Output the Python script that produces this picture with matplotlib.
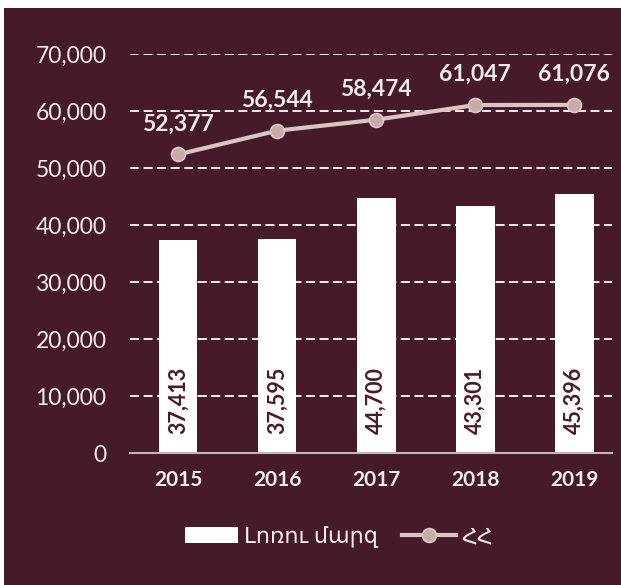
import matplotlib
matplotlib.use("Agg")
import matplotlib.pyplot as plt
from matplotlib.patches import Rectangle
from matplotlib.lines import Line2D

# Data
years = ["2015", "2016", "2017", "2018", "2019"]
lori = [37413, 37595, 44700, 43301, 45396]
armenia = [52377, 56544, 58474, 61047, 61076]
yticks = [0, 10000, 20000, 30000, 40000, 50000, 60000, 70000]
bar_name = "Լոռու մարզ"
line_name = "ՀՀ"

bg = "#461a29"
line_col = "#d9c5c3"
marker_col = "#c9aaa8"
text_col = "#f2ecec"
fonts = ["Lato", "DejaVu Sans"]

fig = plt.figure(figsize=(6.21, 5.85), dpi=100, facecolor="white")
# maroon panel with a thin white strip on the top and left
fig.patches.append(Rectangle((4 / 621, 0), 1, 1 - 8 / 585, transform=fig.transFigure,
                             facecolor=bg, edgecolor="none", zorder=-10))

ax = fig.add_axes([130 / 621, 1 - 453 / 585, 482 / 621, 399 / 585])
ax.set_facecolor("none")

x = list(range(len(years)))
ax.bar(x, lori, width=0.39, color="white", zorder=2)
ax.plot(x, armenia, color=line_col, lw=3, marker="o", ms=10,
        mfc=marker_col, mec="#dccbc9", mew=1.2, zorder=3)

# labels in the bars
for i, v in enumerate(lori):
    ax.annotate(f"{v:,}", (i, 0), xytext=(0, 14), textcoords="offset points",
                rotation=90, ha="center", va="bottom", color="#4a1a2b",
                fontsize=15.5, fontweight="bold", family=fonts, zorder=4)

# labels above the line
for i, v in enumerate(armenia):
    ax.annotate(f"{v:,}", (i, v), xytext=(0, 22), textcoords="offset points",
                ha="center", va="center", color=text_col,
                fontsize=16.5, fontweight="bold", family=fonts, zorder=4)

ax.set_xlim(-0.485, 4.38)
ax.set_ylim(0, 70000)
ax.set_yticks(yticks)
ax.set_yticklabels([f"{t:,}" for t in yticks])
ax.set_xticks(x)
ax.set_xticklabels(years)
for lbl in ax.get_yticklabels():
    lbl.set_family(fonts)
    lbl.set_fontsize(16.5)
    lbl.set_color(text_col)
for lbl in ax.get_xticklabels():
    lbl.set_family(fonts)
    lbl.set_fontsize(15)
    lbl.set_fontweight("bold")
    lbl.set_color(text_col)
ax.tick_params(axis="both", length=0)
ax.tick_params(axis="y", pad=17)
ax.tick_params(axis="x", pad=12)

# dashed grid lines
for t in yticks[1:]:
    ax.axhline(t, color="white", lw=1.3, ls=(0, (5, 2.5)), zorder=1)

for s in ["top", "right", "left"]:
    ax.spines[s].set_visible(False)
ax.spines["bottom"].set_color("#c4b4b8")
ax.spines["bottom"].set_linewidth(1.5)
ax.spines["bottom"].set_zorder(5)

handles = [Rectangle((0, 0), 1, 1, facecolor="white", edgecolor="none"),
           Line2D([], [], color=line_col, lw=3, marker="o", ms=10,
                  mfc=marker_col, mec="#dccbc9", mew=1.2)]
leg = fig.legend(handles, [bar_name, line_name], loc="center",
                 bbox_to_anchor=(339 / 621, 1 - 537 / 585), ncol=2, frameon=False,
                 handlelength=2.4, handletextpad=0.25, columnspacing=1.1,
                 prop={"family": fonts, "size": 16})
for t in leg.get_texts():
    t.set_color(text_col)

fig.savefig("out.png", dpi=100, facecolor=fig.get_facecolor())
